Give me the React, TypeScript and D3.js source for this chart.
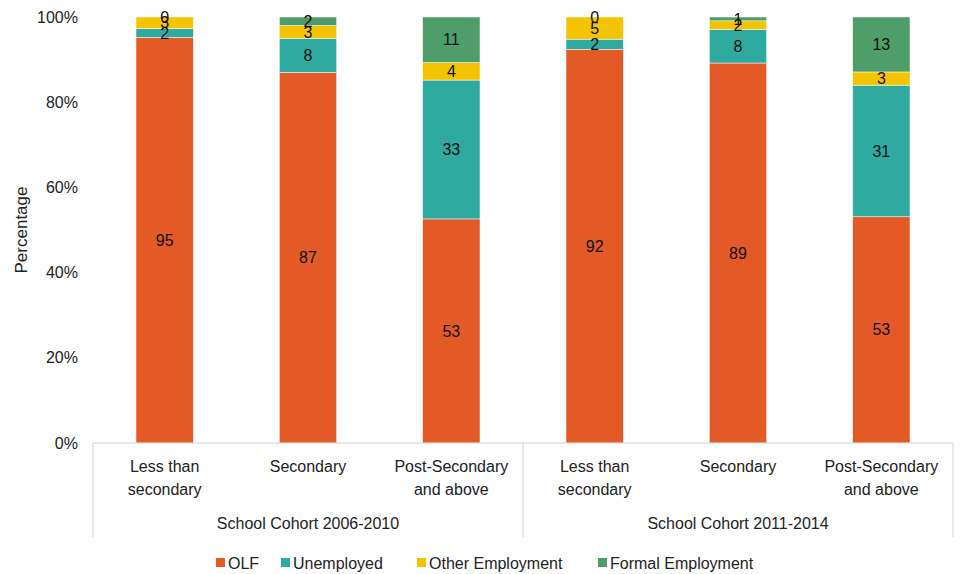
import React from "react";
import * as d3 from "d3";

const categories = ["Less than\nsecondary", "Secondary", "Post-Secondary\nand above", "Less than\nsecondary", "Secondary", "Post-Secondary\nand above"];
const groups = ["School Cohort 2006-2010", "School Cohort 2011-2014"];
const seriesNames = ["OLF", "Unemployed", "Other Employment", "Formal Employment"];
const olf = [95.2, 87, 52.6, 92.4, 89.2, 53.1];
const unemployed = [2.1, 8, 32.6, 2.4, 7.9, 30.9];
const otherEmp = [2.7, 3, 4.1, 5.2, 2, 3.1];
const formalEmp = [0, 2, 10.7, 0, 0.9, 12.9];
const yTicks = [0, 20, 40, 60, 80, 100];
const colors = ["#E35A27", "#2EAAA0", "#F5C400", "#4F9E6A"];

const W = 961, H = 574;
const left = 93, right = 953, top = 17, bottom = 443;
const font = "'Liberation Sans', Arial, sans-serif";

export default function App() {
  const rows = categories.map((c, i) => ({
    idx: i,
    OLF: olf[i],
    Unemployed: unemployed[i],
    "Other Employment": otherEmp[i],
    "Formal Employment": formalEmp[i],
  }));
  const stack = d3.stack<any>().keys(seriesNames);
  const stacked = stack(rows);
  const x = d3.scaleBand<number>().domain(rows.map((r) => r.idx)).range([left, right]).paddingInner(0.6).paddingOuter(0.3);
  const y = d3.scaleLinear().domain([0, 100]).range([bottom, top]);
  const step = (right - left) / 6;

  const legendX = [216, 281, 417, 598];

  return (
    <svg width={W} height={H} style={{ position: "absolute", left: 0, top: 0 }} fontFamily={font}>
      <rect width={W} height={H} fill="#fff" />
      {yTicks.map((t) => (
        <text key={t} x={78} y={y(t)} dy="0.35em" textAnchor="end" fontSize={16} fill="#222">{t}%</text>
      ))}
      <text transform={`translate(21,${(top + bottom) / 2}) rotate(-90)`} textAnchor="middle" dy="0.35em" fontSize={17} fill="#222">Percentage</text>
      {stacked.map((s, si) => (
        <g key={s.key}>
          {s.map((d, i) => (
            <rect key={i} x={x(i)!} width={x.bandwidth()} y={y(d[1])} height={Math.max(0, y(d[0]) - y(d[1]))} fill={colors[si]} stroke="#fff" strokeWidth={0.5} />
          ))}
        </g>
      ))}
      {stacked.map((s) => (
        <g key={s.key + "l"}>
          {s.map((d, i) => (
            <text key={i} x={x(i)! + x.bandwidth() / 2} y={y((d[0] + d[1]) / 2)} dy="0.35em" textAnchor="middle" fontSize={16} fill="#111">
              {Math.round(d[1] - d[0])}
            </text>
          ))}
        </g>
      ))}
      <line x1={left} x2={right} y1={bottom} y2={bottom} stroke="#d0d0d0" strokeWidth={1} />
      {[left, left + 3 * step, right].map((lx, i) => (
        <line key={i} x1={lx} x2={lx} y1={bottom} y2={537} stroke="#d0d0d0" strokeWidth={1} />
      ))}
      {categories.map((c, i) => (
        <text key={i} x={x(i)! + x.bandwidth() / 2} y={466} textAnchor="middle" fontSize={16} fill="#222">
          {c.split("\n").map((line, li) => (
            <tspan key={li} x={x(i)! + x.bandwidth() / 2} dy={li === 0 ? "0.35em" : 23}>{line}</tspan>
          ))}
        </text>
      ))}
      {groups.map((g, gi) => (
        <text key={g} x={left + step * (1.5 + 3 * gi)} y={523} dy="0.35em" textAnchor="middle" fontSize={16} fill="#222">{g}</text>
      ))}
      {seriesNames.map((n, i) => (
        <g key={n} transform={`translate(${legendX[i]},563)`}>
          <rect x={0} y={-5} width={9} height={9} fill={colors[i]} />
          <text x={12} y={0} dy="0.35em" fontSize={16} fill="#222">{n}</text>
        </g>
      ))}
    </svg>
  );
}
